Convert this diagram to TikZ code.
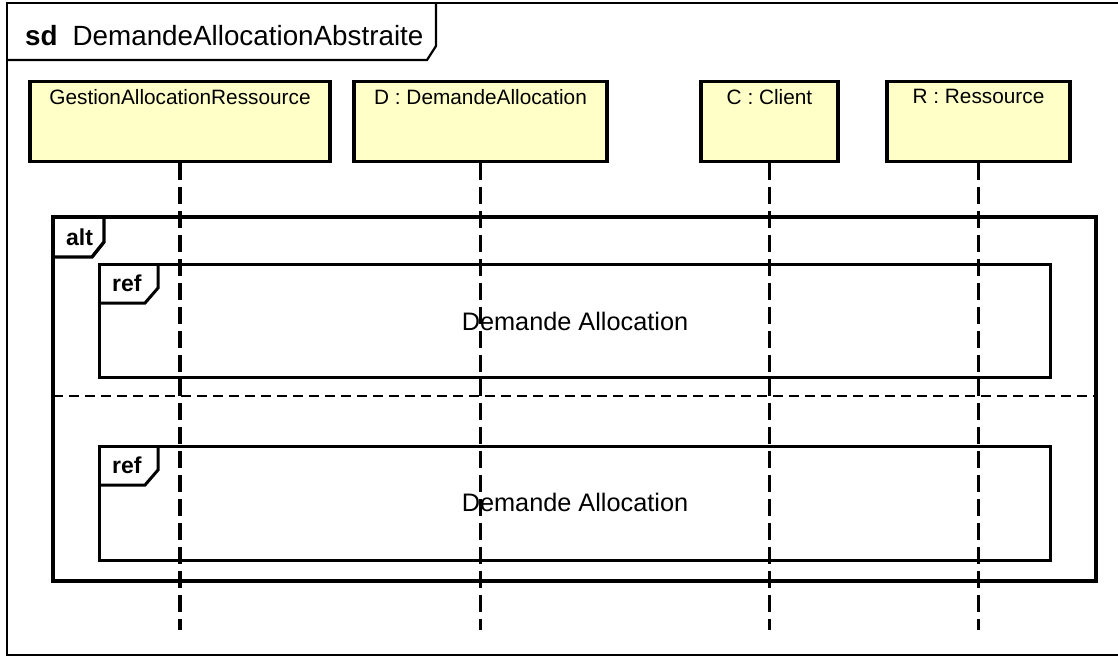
\documentclass[tikz,border=0pt]{standalone}
\usepackage{fontspec}
\setmainfont{Liberation Sans}
\definecolor{headfill}{RGB}{255,255,200}
\tikzset{
  head/.style={draw, line width=3.4pt, fill=headfill, minimum width=#1, minimum height=80pt, inner sep=0pt},
  headlabel/.style={font=\fontsize{20.8}{24}\selectfont, anchor=north, yshift=-6pt},
  lifeline/.style={line width=3.6pt, dash pattern=on 17pt off 7pt},
  framebox/.style={line width=2.2pt},
  altbox/.style={line width=3.4pt},
  refbox/.style={line width=3pt},
  sep/.style={line width=2.8pt, dash pattern=on 10pt off 6pt},
  kw/.style={font=\fontsize{23}{26}\selectfont\bfseries, anchor=base west, inner sep=0pt},
  reftext/.style={font=\fontsize{25.3}{28}\selectfont, anchor=base, inner sep=0pt}
}
\begin{document}
\begin{tikzpicture}[x=1pt,y=-1pt]
\useasboundingbox (0,0) rectangle (1118,657);
\clip (0,0) rectangle (1118,657);
% outer frame
\draw[framebox] (1130,3) -- (7,3) -- (7,655) -- (1130,655);
\draw[framebox] (7,60) -- (427,60) -- (436,46) -- (436,3);
\node[anchor=base west, inner sep=0pt, font=\fontsize{27.8}{30}\selectfont] (title) at (25,45) {\textbf{sd}\hspace{15pt}DemandeAllocationAbstraite};
% alt fragment
\draw[altbox] (53,217) rectangle (1096,581);
\draw[altbox] (53,257) -- (92,257) -- (104,242) -- (104,217);
\node[kw] (alt) at (66,245) {alt};
\draw[sep] (53,396) -- (1096,396);
% ref 1
\draw[refbox] (99,264) rectangle (1050,377);
\draw[refbox] (99,303) -- (145,303) -- (158,288) -- (158,264);
\node[kw] (ref1) at (112,291) {ref};
\node[reftext] (da1) at (575,330) {Demande Allocation};
% ref 2
\draw[refbox] (99,446) rectangle (1050,560);
\draw[refbox] (99,485) -- (145,485) -- (158,470) -- (158,446);
\node[kw] (ref2) at (112,473) {ref};
\node[reftext] (da2) at (575,511) {Demande Allocation};
% lifeline heads
\node[head=300pt, label={[headlabel]north:GestionAllocationRessource}] (G) at (180,121.5) {};
\node[head=253pt, label={[headlabel]north:D : DemandeAllocation}] (D) at (480.5,121.5) {};
\node[head=137pt, label={[headlabel]north:C : Client}] (C) at (769.5,121.5) {};
\node[head=183pt, label={[headlabel]north:R : Ressource}] (R) at (978.5,121.5) {};
% lifelines
\coordinate (Gend) at (180,630);
\coordinate (Dend) at (480.5,630);
\coordinate (Cend) at (769.5,630);
\coordinate (Rend) at (978.5,630);
\draw[lifeline] (G.south) -- (Gend);
\draw[lifeline] (D.south) -- (Dend);
\draw[lifeline] (C.south) -- (Cend);
\draw[lifeline] (R.south) -- (Rend);
\end{tikzpicture}
\end{document}
